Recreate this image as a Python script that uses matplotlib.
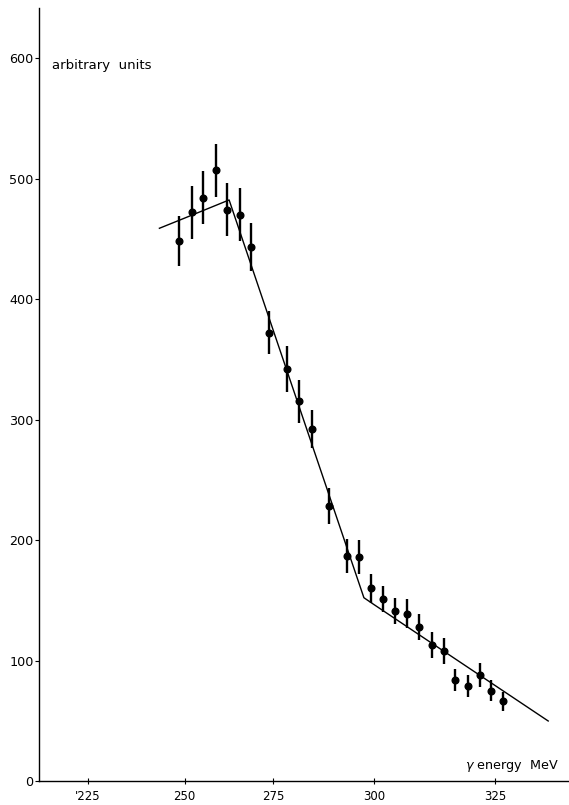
import numpy as np
import matplotlib
matplotlib.use("Agg")
import matplotlib.pyplot as plt

# measured yield vs photon energy
energy = [248.7, 252.2, 255.3, 258.9, 262.1, 265.7, 268.9, 274.0, 278.5, 281.4,
          284.6, 288.9, 293.3, 296.3, 299.3, 301.8, 304.4, 306.8, 309.3, 311.9,
          314.4, 316.8, 319.4, 321.8, 324.2, 326.6]
counts = [448, 472, 484, 507, 474, 470, 443, 372, 342, 315,
          292, 228, 187, 186, 160, 151, 141, 139, 128, 113,
          108, 84, 79, 88, 75, 66]
errors = [21, 22, 22, 22, 22, 22, 20, 18, 19, 18,
          16, 15, 14, 14, 12, 11, 11, 12, 11, 11,
          11, 9, 9, 10, 9, 8]

# broken-line fit through the points
fit_energy = [243.5, 250, 262.6, 275, 297.5, 300, 325, 336]
fit_counts = [458.7, 467.1, 482.2, 374.6, 152.1, 146.4, 79.3, 49.8]

# the energy axis of the original drawing is not evenly spaced
tick_energy = [225, 250, 275, 300, 325]
tick_labels = ["'225", "250", "275", "300", "325"]
scale_e = [212.3, 225, 250, 275, 300, 325, 340.3]
scale_p = [39, 88, 184.5, 273, 374, 495, 569]

y_ticks = [0, 100, 200, 300, 400, 500, 600]


def fwd(x):
    return np.interp(x, scale_e, scale_p)


def inv(p):
    return np.interp(p, scale_p, scale_e)


fig = plt.figure(figsize=(5.69, 8.05), dpi=100)
ax = fig.add_axes([39 / 569, 1 - 781 / 805, 1 - 39 / 569, (781 - 8) / 805])

ax.set_xscale("function", functions=(fwd, inv))
ax.set_xlim(212.3, 340.3)
ax.set_ylim(0, 641.5)

ax.errorbar(energy, counts, yerr=errors, fmt="o", color="black",
            markersize=4.8, elinewidth=1.7, capsize=0)
ax.plot(fit_energy, fit_counts, color="black", linewidth=1.0)

ax.set_xticks(tick_energy)
ax.set_xticklabels(tick_labels, fontsize=8.5)
ax.set_yticks(y_ticks)
ax.set_yticklabels([str(v) for v in y_ticks], fontsize=9.2)
ax.xaxis.set_minor_locator(plt.NullLocator())
ax.tick_params(axis="x", direction="inout", length=5, width=0.8, pad=4)
ax.tick_params(axis="y", direction="out", length=3, width=0.8, pad=1)

for side in ("top", "right"):
    ax.spines[side].set_visible(False)
for side in ("left", "bottom"):
    ax.spines[side].set_linewidth(1.0)

fig.text(52 / 569, 1 - 65 / 805, "arbitrary  units", fontsize=9.5, va="center")
fig.text(465 / 569, 1 - 766 / 805, r"$\gamma$ energy  MeV", fontsize=9.2,
         va="center")

fig.savefig("out.png", dpi=100)
